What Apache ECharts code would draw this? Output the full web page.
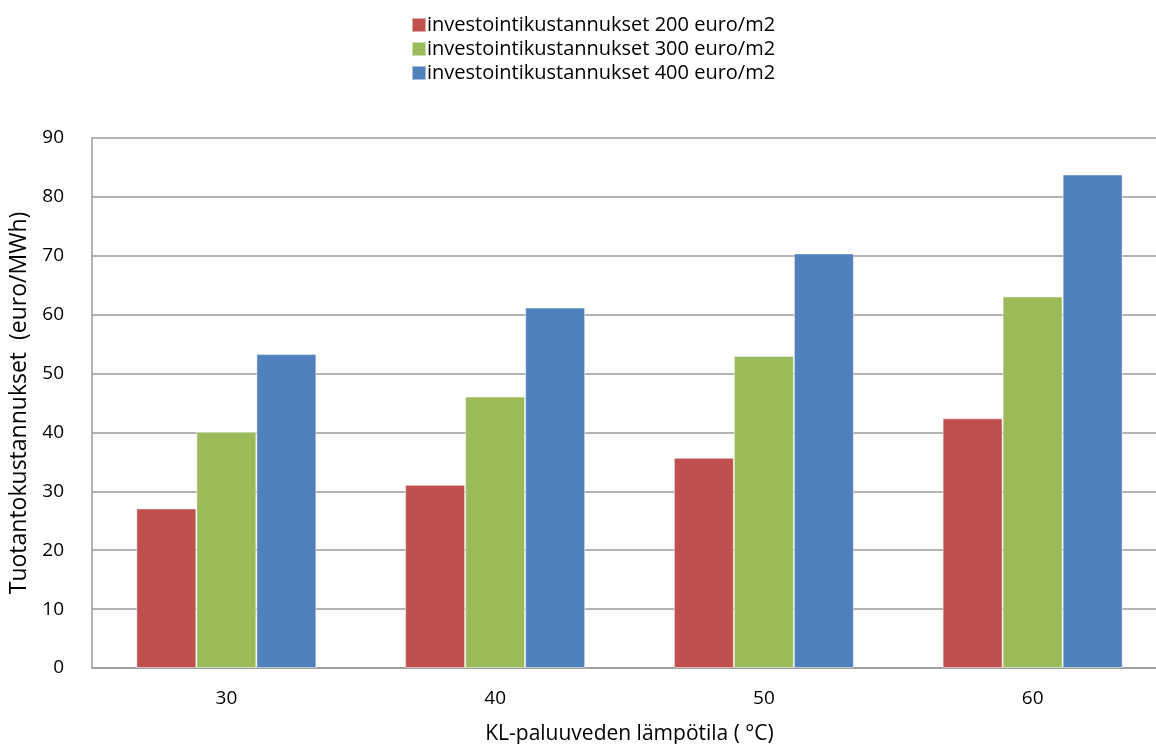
<!DOCTYPE html>
<html>
<head>
<meta charset="utf-8">
<script src="https://cdn.jsdelivr.net/npm/echarts@6/dist/echarts.min.js"></script>
<style>
  html, body { margin: 0; padding: 0; background: #fff; }
  #chart { width: 1156px; height: 744px; }
</style>
</head>
<body>
<div id="chart"></div>
<script>
// Return water temperature categories (°C)
const categories = ['30', '40', '50', '60'];
// Production cost (euro/MWh) for each investment cost level
const cost200 = [27.1, 31.1, 35.7, 42.4];
const cost300 = [40.1, 46.1, 53.0, 63.1];
const cost400 = [53.3, 61.2, 70.4, 83.8];
const seriesNames = [
  'investointikustannukset 200 euro/m2',
  'investointikustannukset 300 euro/m2',
  'investointikustannukset 400 euro/m2'
];
const colors = ['#C0504D', '#9BBB59', '#4F81BD'];

const fontFamily = '"Open Sans", sans-serif';
const chart = echarts.init(document.getElementById('chart'));

const values = [cost200, cost300, cost400];

chart.setOption({
  animation: false,
  textStyle: { fontFamily: fontFamily, color: '#000' },
  legend: {
    orient: 'vertical',
    left: 406,
    top: 10,
    itemWidth: 14,
    itemHeight: 14,
    itemGap: 4,
    icon: 'rect',
    textStyle: { fontSize: 20, color: '#000', fontFamily: fontFamily, padding: [0, 0, 0, -4] },
    data: seriesNames
  },
  // the plot runs slightly past the right edge of the canvas
  grid: { left: 92, right: -11, top: 138, bottom: 76, outerBoundsMode: 'none' },
  xAxis: {
    type: 'category',
    data: categories,
    name: 'KL-paluuveden lämpötila ( °C)',
    nameLocation: 'middle',
    nameGap: 56,
    nameTextStyle: { fontSize: 21, color: '#000', fontFamily: fontFamily },
    axisLine: { lineStyle: { color: '#9a9a9a', width: 1.5 } },
    axisTick: { show: false },
    axisLabel: { fontSize: 19, color: '#000', margin: 21 }
  },
  yAxis: {
    type: 'value',
    min: 0,
    max: 90,
    interval: 10,
    name: 'Tuotantokustannukset  (euro/MWh)',
    nameLocation: 'middle',
    nameGap: 58,
    nameTextStyle: { fontSize: 23, color: '#000', fontFamily: fontFamily },
    axisLine: { show: true, lineStyle: { color: '#9a9a9a', width: 1.5 } },
    axisTick: { show: false },
    axisLabel: { fontSize: 19, color: '#000', margin: 28 },
    splitLine: { lineStyle: { color: '#9a9a9a', width: 1.5 } }
  },
  series: seriesNames.map((name, i) => ({
    name: name,
    type: 'bar',
    data: values[i],
    barGap: '0%',
    barCategoryGap: '33%',
    itemStyle: { color: colors[i], borderColor: 'rgba(255,255,255,0.5)', borderWidth: 1 }
  }))
});
</script>
</body>
</html>
